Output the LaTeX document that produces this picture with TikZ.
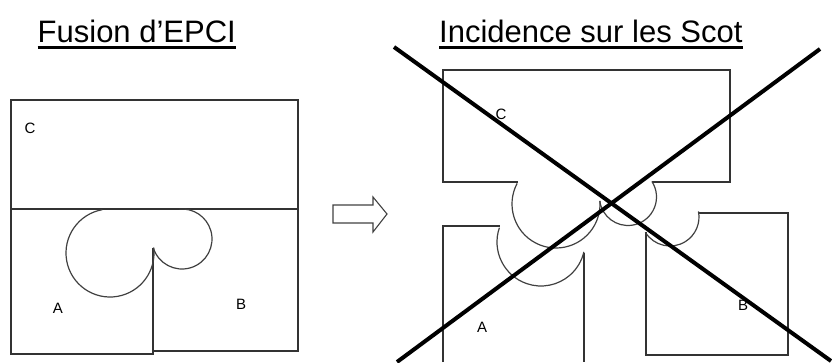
\documentclass[tikz,border=0pt]{standalone}
\usepackage{fontspec}
\setmainfont{Liberation Sans}
\begin{document}
\begin{tikzpicture}[x=1pt,y=-1pt,
  edge/.style={draw=black!80,line width=1.5pt,line join=miter},
  curve/.style={draw=black!75,line width=1.2pt},
  cross/.style={draw=black,line width=4pt},
  title/.style={anchor=base west,inner sep=0pt,font=\fontsize{31}{36}\selectfont},
  lbl/.style={inner sep=0pt,text=black,font=\fontsize{15}{17}\selectfont},
  uline/.style={draw=black,line width=3pt}]
\useasboundingbox (0,0) rectangle (832,362);
% titles
\node[title] (t1) at (37.5,42) {Fusion d’EPCI};
\node[title] (t2) at (439,42) {Incidence sur les Scot};
\draw[uline] ([yshift=-5pt]t1.base west) -- ([yshift=-5pt]t1.base east);
\draw[uline] ([yshift=-5pt]t2.base west) -- ([yshift=-5pt]t2.base east);
% ---------- left figure
\draw[edge] (11,209) -- (11,100) -- (298,100) -- (298,209) -- cycle;
\draw[edge] (11,209) -- (11,354) -- (153,354) -- (153,248);
\draw[edge] (153,351) -- (298,351) -- (298,209);
\draw[curve] (110,253) ++(100:44pt) arc[start angle=100,end angle=367,radius=44pt];
\draw[curve] (182,239) ++(197:30pt) arc[start angle=197,end angle=455,radius=30pt];
\node[lbl] (lc) at (30,128) {C};
\node[lbl] (la) at (58,308) {A};
\node[lbl] (lb) at (241,304) {B};
% ---------- arrow
\draw[draw=black!75,line width=1.1pt,line join=miter]
  (333,205) -- (373,205) -- (373,197) -- (387,214) -- (373,232) -- (373,223) -- (333,223) -- cycle;
% ---------- right figure
% C
\draw[edge] (518,182) -- (443,182) -- (443,70) -- (730,70) -- (730,182) -- (652,182);
\draw[curve] (556,204) ++(152:44pt) arc[start angle=152,end angle=364,radius=44pt];
\draw[curve] (628,197) ++(188:28.5pt) arc[start angle=188,end angle=393,radius=28.5pt];
% A
\draw[edge] (584,253) -- (584,362);
\draw[edge] (443,362) -- (443,226) -- (500,226);
\draw[curve] (541,242) ++(161:44pt) arc[start angle=161,end angle=347,radius=44pt];
% B
\draw[edge] (699,213) -- (788,213) -- (788,355) -- (646,355) -- (646,232);
\draw[curve] (670,217) ++(212:29pt) arc[start angle=212,end angle=371,radius=29pt];
\node[lbl] (rc) at (501,114) {C};
\node[lbl] (ra) at (482,327) {A};
\node[lbl] (rb) at (743,305) {B};
% cross
\draw[cross] (394,47) -- (831,361);
\draw[cross] (820,49) -- (397,362);
\end{tikzpicture}
\end{document}
